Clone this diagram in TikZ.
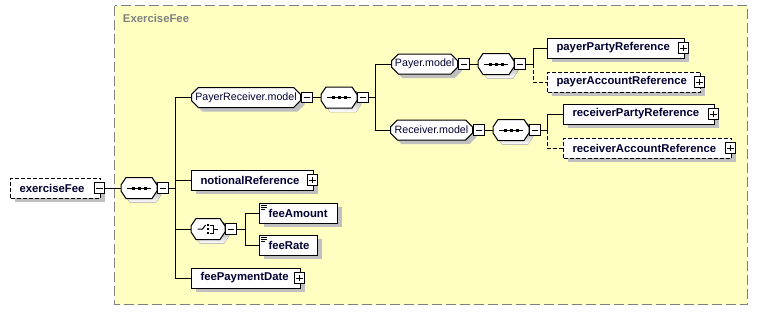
\documentclass[tikz,border=0pt]{standalone}
\usepackage{fontspec}
\setmainfont{Liberation Sans}
\usepackage{tikz}
\usetikzlibrary{positioning, shapes.misc, shadows}

\definecolor{grpfill}{RGB}{255,255,194}
\definecolor{grpline}{RGB}{128,128,128}
\definecolor{shade}{RGB}{192,192,192}
\definecolor{txt}{RGB}{0,0,48}

% compositor outline round a named node
\newcommand{\octpath}[1]{([xshift=3.75pt]#1.north west) -- ([xshift=-3.75pt]#1.north east) -- ([yshift=2.25pt]#1.east) -- ([yshift=-2.25pt]#1.east) -- ([xshift=-3.75pt]#1.south east) -- ([xshift=3.75pt]#1.south west) -- ([yshift=-2.25pt]#1.west) -- ([yshift=2.25pt]#1.west) -- cycle}
\newcommand{\compbox}[1]{%
  \fill[shade, transform canvas={xshift=3pt, yshift=-3pt}] \octpath{#1};
  \draw[fill=white] \octpath{#1};}
% compositor symbols
\newcommand{\seqmark}[1]{%
  \draw (#1.center) ++(-12,0) -- ++(24,0);
  \foreach \d in {-6,0,6} \fill (#1.center) ++(\d-1.5,-1.5) rectangle ++(3,3);}
\newcommand{\choicemark}[1]{%
  \draw (#1.center) ++(-10.5,0) -- ++(5,0) -- ++(3,-4);
  \foreach \d in {-4,0,4} \fill (#1.center) ++(-1.2,\d-1.2) rectangle ++(2.5,2.5);
  \draw (#1.center) ++(2,-4) -| ++(3,8) -- ++(-3,0);
  \draw (#1.center) ++(5,0) -- ++(5,0);}
\newcommand{\simplemark}[1]{%
  \draw (#1.north west) ++(2,2.5) -- ++(6,0) ++(-6,2) -- ++(6,0) ++(-6,2) -- ++(4,0);}

\begin{document}
\begin{tikzpicture}[
    x=0.75pt, y=-0.75pt, line width=0.75pt,
    shadowed/.style={drop shadow={shadow xshift=3pt, shadow yshift=-3pt, fill=shade, opacity=1}},
    elem/.style={rectangle, draw, fill=white, shadowed, minimum height=15pt, text width=#1, inner xsep=6.75pt, inner ysep=0pt, anchor=west, align=left, font=\fontsize{8.5}{10}\selectfont\bfseries, text=txt},
    opt/.style={dash pattern=on 3pt off 1.5pt},
    model/.style={chamfered rectangle, chamfered rectangle xsep=2.6pt, chamfered rectangle ysep=2.6pt, draw, fill=white, shadowed, minimum height=15pt, minimum width=#1, inner sep=0pt, anchor=west, font=\fontsize{8}{10}\selectfont, text=txt},
    comp/.style={rectangle, minimum height=15pt, minimum width=#1, inner sep=0pt, anchor=west},
    minus/.style={rectangle, draw, fill=white, minimum size=8pt, inner sep=0pt, path picture={\draw ([xshift=-2.3pt]path picture bounding box.center) -- ([xshift=2.3pt]path picture bounding box.center);}},
    plus/.style={rectangle, draw, fill=white, minimum size=8pt, inner sep=0pt, path picture={\draw ([xshift=-2.3pt]path picture bounding box.center) -- ([xshift=2.3pt]path picture bounding box.center); \draw ([yshift=-2.3pt]path picture bounding box.center) -- ([yshift=2.3pt]path picture bounding box.center);}}
]
\useasboundingbox (0,0) rectangle (759,311);

% group
\draw[grpline, fill=grpfill, dash pattern=on 7.5pt off 3pt] (114.5,5.5) rectangle (747.5,304.5);
\node[anchor=west, font=\fontsize{8.5}{10}\selectfont\bfseries, text=grpline] (grpname) at (118,18.5) {ExerciseFee};

% compositors
\node[comp=26.25pt] (sqa) at (121,188) {};
\node[comp=26.25pt] (sqb) at (321,97.5) {};
\node[comp=26.25pt] (sqc) at (478,64) {};
\node[comp=26.25pt] (sqd) at (493,130) {};
\node[comp=24.75pt] (chc) at (191,229) {};
\foreach \n in {sqa, sqb, sqc, sqd, chc} {\compbox{\n}}
\foreach \n in {sqa, sqb, sqc, sqd} {\seqmark{\n}}
\choicemark{chc}
\node[minus, right=0pt of sqa] (sqam) {};
\node[minus, right=0pt of sqb] (sqbm) {};
\node[minus, right=0pt of sqc] (sqcm) {};
\node[minus, right=0pt of sqd] (sqdm) {};
\node[minus, right=0pt of chc] (chcm) {};
\coordinate (ja) at (175,188);
\coordinate (jb) at (375,97.5);
\coordinate (jc) at (533,64);
\coordinate (jd) at (547,130);
\coordinate (je) at (245,229);

% root
\node[elem=54pt, opt] (ef) at (10,188) {exerciseFee};
\node[minus, xshift=-1.1pt] (efm) at (ef.east) {};

% payer / receiver
\node[model=81.75pt] (prm) at (191,97.5) {PayerReceiver.model};
\node[minus, right=0pt of prm] (prmm) {};

\node[model=49.5pt] (pym) at (391,64) {Payer.model};
\node[minus, right=0pt of pym] (pymm) {};
\node[elem=89.25pt] (ppr) at (547,48) {payerPartyReference};
\node[plus, xshift=-1.1pt] (pprp) at (ppr.east) {};
\node[elem=101.25pt, opt] (par) at (547,82) {payerAccountReference};
\node[plus, xshift=-1.1pt] (parp) at (par.east) {};

\node[model=61.5pt] (rcm) at (390,130) {Receiver.model};
\node[minus, right=0pt of rcm] (rcmm) {};
\node[elem=99.75pt] (rpr) at (563,114) {receiverPartyReference};
\node[plus, xshift=-1.1pt] (rprp) at (rpr.east) {};
\node[elem=112.5pt, opt] (rar) at (563,148) {receiverAccountReference};
\node[plus, xshift=-1.1pt] (rarp) at (rar.east) {};

% other children
\node[elem=78pt] (npr) at (191,180) {notionalReference};
\node[plus, xshift=-1.1pt] (nprp) at (npr.east) {};
\node[elem=45pt] (fam) at (259,213) {feeAmount};
\node[elem=30pt] (frt) at (259,245) {feeRate};
\node[elem=68.25pt] (fpd) at (191,278) {feePaymentDate};
\node[plus, xshift=-1.1pt] (fpdp) at (fpd.east) {};
\simplemark{fam}
\simplemark{frt}

% connectors
\draw (efm) -- (sqa);
\draw (sqam) -- (ja);
\foreach \n in {prm, npr, chc, fpd} \draw (ja) |- (\n.west);
\draw (prmm) -- (sqb);
\draw (sqbm) -- (jb);
\foreach \n in {pym, rcm} \draw (jb) |- (\n.west);
\draw (pymm) -- (sqc);
\draw (sqcm) -- (jc);
\draw (jc) |- (ppr.west);
\draw[opt] (jc) |- (par.west);
\draw (rcmm) -- (sqd);
\draw (sqdm) -- (jd);
\draw (jd) |- (rpr.west);
\draw[opt] (jd) |- (rar.west);
\draw (chcm) -- (je);
\foreach \n in {fam, frt} \draw (je) |- (\n.west);
\end{tikzpicture}
\end{document}
